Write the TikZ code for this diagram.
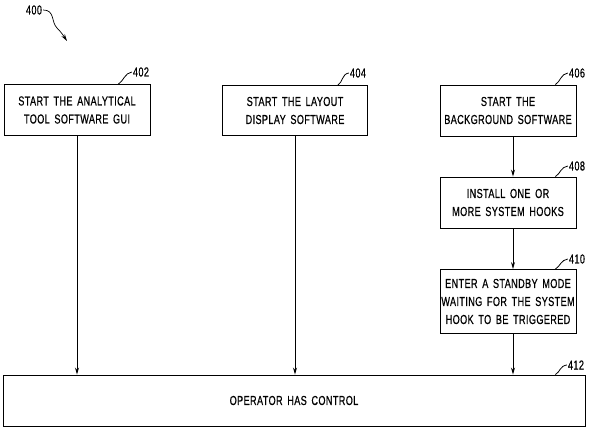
\documentclass[tikz,border=0pt]{standalone}
\usepackage{fontspec}
\setmainfont{Liberation Sans}[FakeStretch=0.7,LetterSpace=3,WordSpace=1.6,FakeBold=0.6]
\usetikzlibrary{arrows.meta}

\begin{document}
\begin{tikzpicture}[x=1pt,y=-1pt,
    stepbox/.style={draw,line width=0.9pt,align=center,inner sep=0pt,
        minimum width=136pt,minimum height=51pt,font=\fontsize{13}{18}\selectfont},
    refnum/.style={inner sep=1pt,font=\fontsize{13}{15}\selectfont},
    flow/.style={-{Stealth[length=7pt,width=4pt]},line width=0.9pt},
    lead/.style={line width=0.8pt}]
    \useasboundingbox (0,0) rectangle (592,435);

    % figure number
    \node[refnum] (n400) at (34,10) {400};
    \coordinate (a400) at (67,41);
    \draw[flow,line width=0.7pt] (n400.east) .. controls (55,10) and (51,22) .. (57,28)
        .. controls (61,32) and (63,35) .. (a400);

    % left and middle start steps
    \node[stepbox,minimum width=146pt] (s402) at (77,110) {START THE ANALYTICAL\\TOOL SOFTWARE GUI};
    \node[stepbox,minimum width=145pt,minimum height=50pt] (s404) at (295,110.5) {START THE LAYOUT\\DISPLAY SOFTWARE};

    % right column
    \node[stepbox] (s406) at (508,110.5) {START THE\\BACKGROUND SOFTWARE};
    \node[stepbox] (s408) at (508,202.5) {INSTALL ONE OR\\MORE SYSTEM HOOKS};
    \node[stepbox,minimum height=64pt] (s410) at (508,301.5) {ENTER A STANDBY MODE\\WAITING FOR THE SYSTEM\\HOOK TO BE TRIGGERED};

    % common end step
    \node[stepbox,minimum width=582pt] (s412) at (294,400.5) {OPERATOR HAS CONTROL};

    % reference numbers
    \node[refnum] (n402) at (141,72) {402};
    \node[refnum] (n404) at (358,73) {404};
    \node[refnum] (n406) at (577,73) {406};
    \node[refnum] (n408) at (577,166) {408};
    \node[refnum] (n410) at (577,259) {410};
    \node[refnum] (n412) at (576,365) {412};
    \draw[lead] ([xshift=-32pt]s402.north east) .. controls +(5,-3) and +(-7,1) .. (n402.west);
    \draw[lead] ([xshift=-30pt]s404.north east) .. controls +(5,-3) and +(-7,1) .. (n404.west);
    \draw[lead] ([xshift=-21pt]s406.north east) .. controls +(5,-3) and +(-7,1) .. (n406.west);
    \draw[lead] ([xshift=-21pt]s408.north east) .. controls +(5,-3) and +(-7,1) .. (n408.west);
    \draw[lead] ([xshift=-21pt]s410.north east) .. controls +(5,-3) and +(-7,1) .. (n410.west);
    \draw[lead] ([xshift=-30pt]s412.north east) .. controls +(5,-3) and +(-7,1) .. (n412.west);

    % flow arrows
    \draw[flow] (s402.south) -- (s402.south |- s412.north);
    \draw[flow] (s404.south) -- (s404.south |- s412.north);
    \draw[flow] ([xshift=5pt]s406.south) -- ([xshift=5pt]s408.north);
    \draw[flow] ([xshift=5pt]s408.south) -- ([xshift=5pt]s410.north);
    \draw[flow] ([xshift=5pt]s410.south) -- ([xshift=5pt]s410.south |- s412.north);
\end{tikzpicture}
\end{document}
